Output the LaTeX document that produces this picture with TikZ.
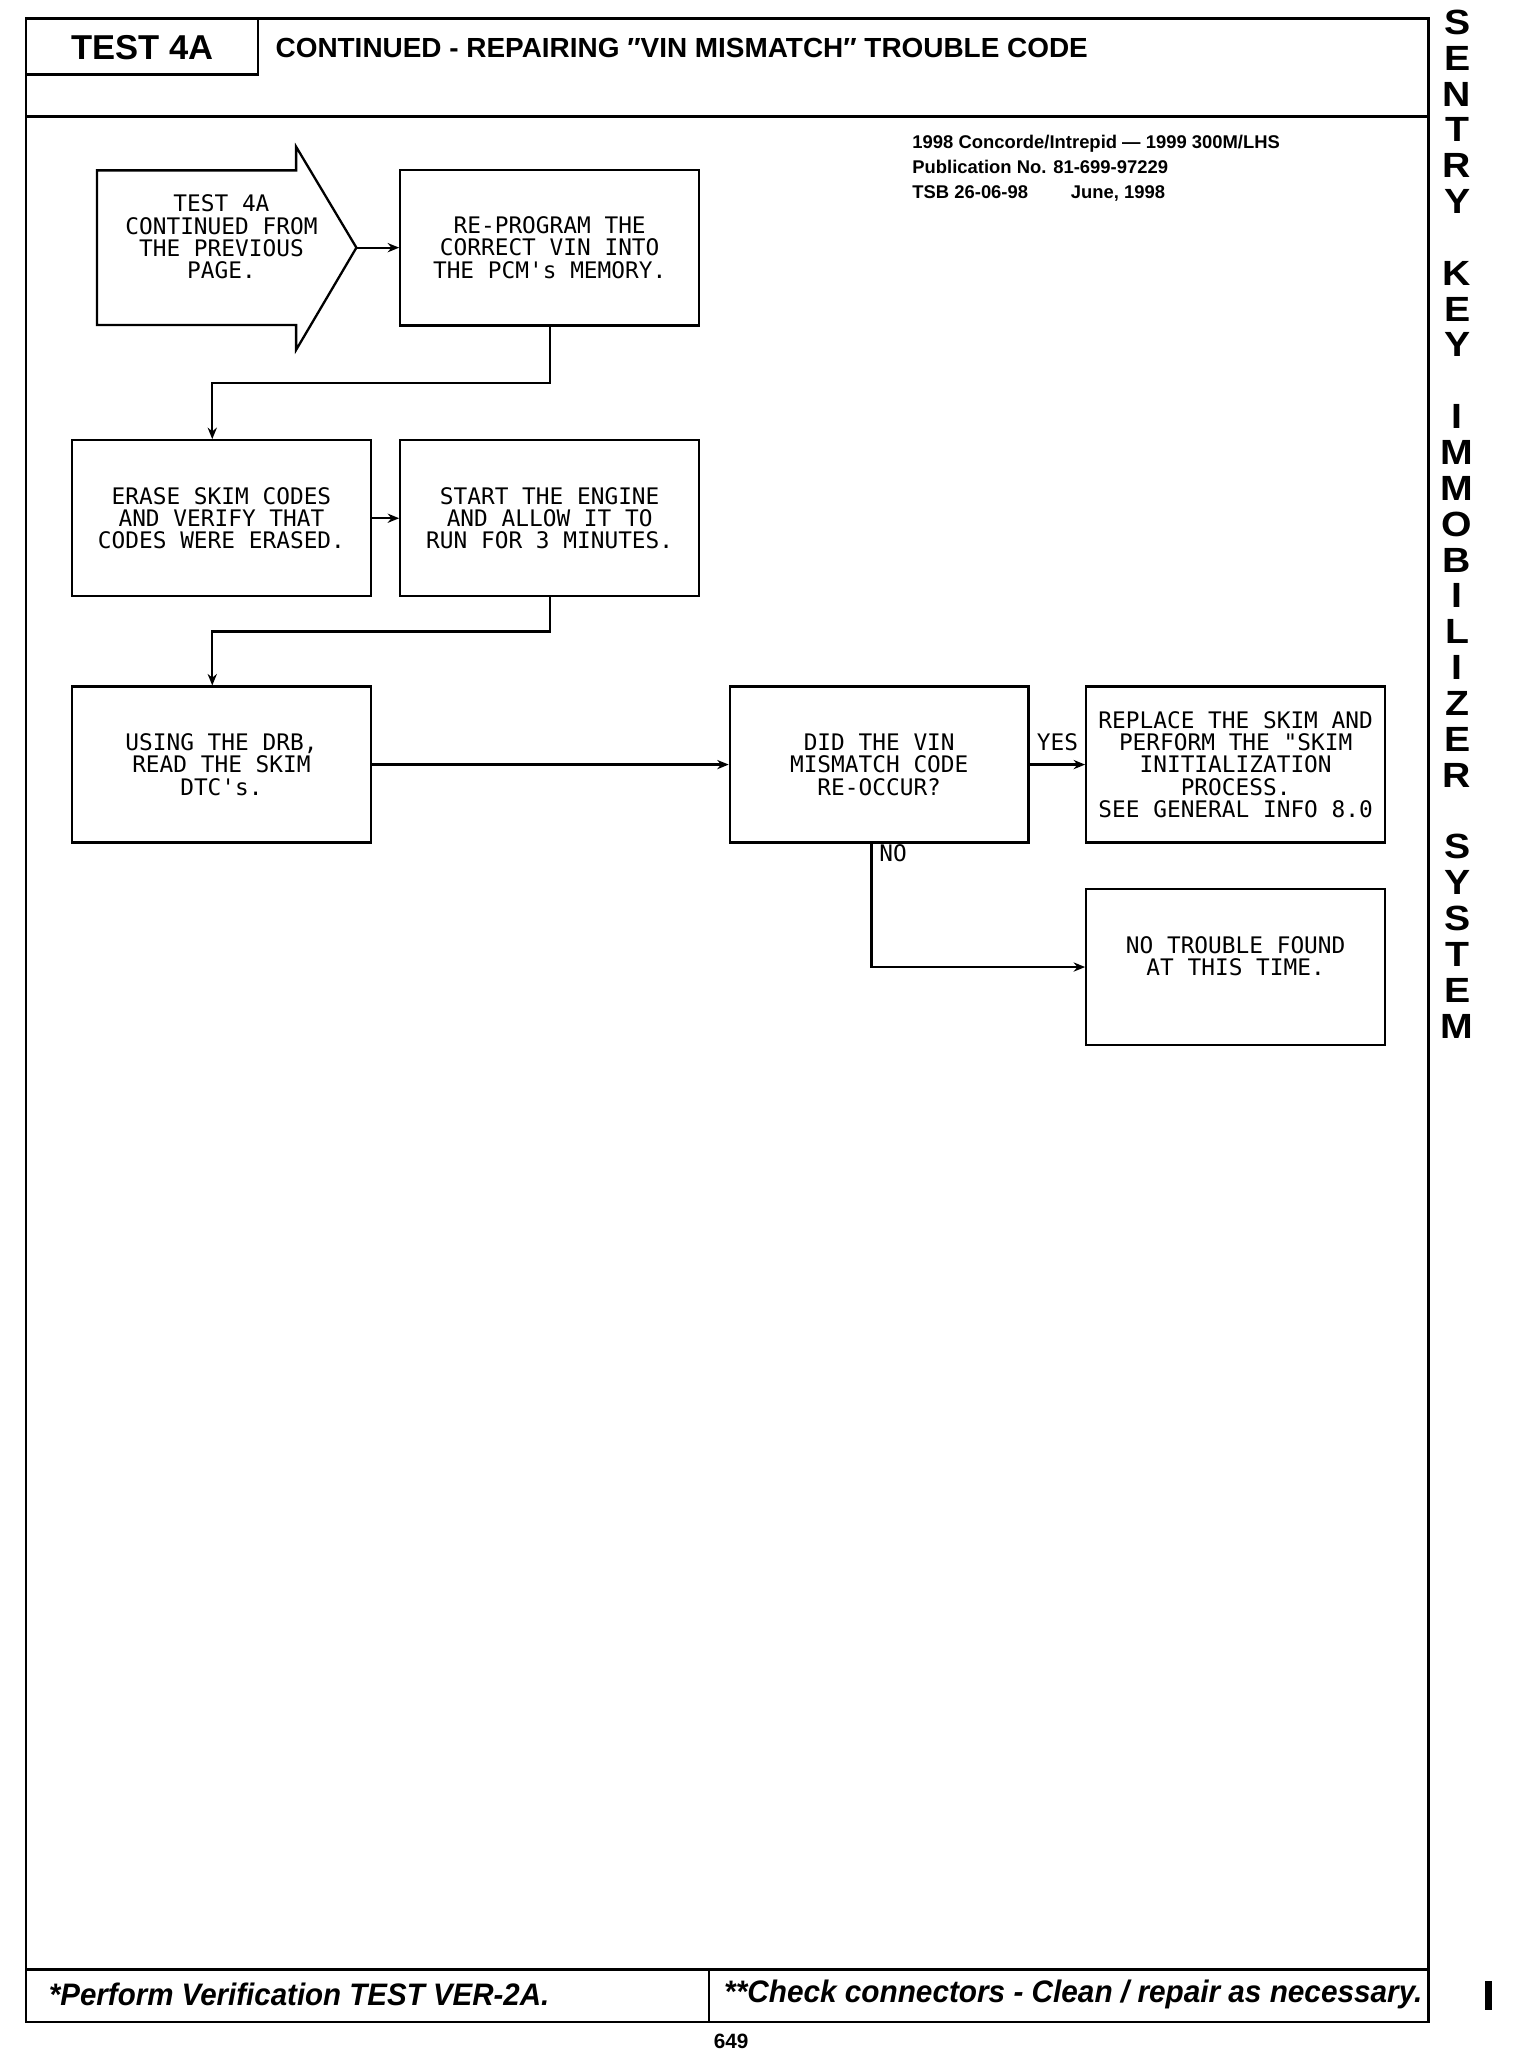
\documentclass[tikz,border=0pt]{standalone}
\usepackage{fontspec}
\setmainfont{Liberation Sans}
\newfontfamily\plotter{DejaVu Sans Mono}
\usetikzlibrary{arrows.meta,calc,positioning}

\begin{document}
\begin{tikzpicture}[x=0.02cm,y=-0.02cm,
        stepbox/.style={draw,line width=1pt,minimum width=4.56cm,minimum height=2.38cm,inner sep=0pt,align=center,font=\plotter\fontsize{9.9}{9.7}\selectfont},
        flow/.style={line width=1pt,-{Stealth[length=5pt,width=4pt]}},
        sideletter/.style={inner sep=0pt,font=\bfseries\fontsize{15.2}{15.2}\selectfont},
        frame/.style={line width=1.1pt}]
            \useasboundingbox (0,0) rectangle (1160,1564.5);
            % page frame
            \draw[frame] (20,14) rectangle (1090,1543);
            \draw[frame] (20,89) -- (1090,89);
            \draw[frame] (20,1503) -- (1090,1503);
            \draw[frame] (541,1503) -- (541,1543);
            \draw[frame] (20,14) rectangle (197,57);
            \node[font=\bfseries\fontsize{15}{15}\selectfont] (testno) at (108.5,36) {TEST 4A};
            \node[anchor=west,inner sep=0pt,font=\bfseries\fontsize{12}{12}\selectfont] (title) at (210,37) {\resizebox{12.4cm}{\height}{CONTINUED - REPAIRING ″VIN MISMATCH″ TROUBLE CODE}};
            \node[anchor=north west,inner sep=0pt,align=left,font=\bfseries\fontsize{8}{10.8}\selectfont] (pubinfo) at (696,103) {1998 Concorde/Intrepid --- 1999 300M/LHS\\Publication No. 81-699-97229\\\makebox[2.42cm][l]{TSB 26-06-98}June, 1998};
            % side title, one letter per line
            \foreach \ch/\k in {S/0,E/1,N/2,T/3,R/4,Y/5,K/7,E/8,Y/9,I/11,M/12,M/13,O/14,B/15,I/16,L/17,I/18,Z/19,E/20,R/21,S/23,Y/24,S/25,T/26,E/27,M/28}
                \node[sideletter] (side\k) at (1112,{17+27.36*\k}) {\scalebox{1.12}[1]{\ch}};
            % entry arrow
            \draw[line width=1pt] (74,130) -- (226,130) -- (226,112) -- (272,189) coordinate (tip) -- (226,267) -- (226,248) -- (74,248) -- cycle;
            \node[align=center,inner sep=0pt,font=\plotter\fontsize{9.9}{9.7}\selectfont] (cont) at (169,181) {TEST 4A\\CONTINUED FROM\\THE PREVIOUS\\PAGE.};
            % steps
            \node[stepbox] (reprog) at (419.5,189) {RE-PROGRAM THE\\CORRECT VIN INTO\\THE PCM's MEMORY.};
            \node[stepbox] (erase) at (169,395.5) {ERASE SKIM CODES\\AND VERIFY THAT\\CODES WERE ERASED.};
            \node[stepbox] (start) at (419.5,395.5) {START THE ENGINE\\AND ALLOW IT TO\\RUN FOR 3 MINUTES.};
            \node[stepbox] (using) at (169,583.5) {USING THE DRB,\\READ THE SKIM\\DTC's.};
            \node[stepbox] (did) at (671,583.5) {DID THE VIN\\MISMATCH CODE\\RE-OCCUR?};
            \node[stepbox] (replace) at (943,583.5) {REPLACE THE SKIM AND\\PERFORM THE "SKIM\\INITIALIZATION\\PROCESS.\\SEE GENERAL INFO 8.0};
            \node[stepbox] (notrouble) at (943,738) {NO TROUBLE FOUND\\AT THIS TIME.\\\mbox{}};
            % connectors
            \draw[flow] (tip) -- (reprog.west);
            \draw[flow] (reprog.south) -- ++(0,43) -| ([xshift=-0.14cm]erase.north);
            \draw[flow] (erase.east) -- (start.west);
            \draw[flow] (start.south) -- ++(0,26) -| ([xshift=-0.14cm]using.north);
            \draw[flow] (using.east) -- (did.west);
            \draw[flow] (did.east) -- node[above=2.5pt,inner sep=3pt,font=\plotter\fontsize{9.9}{9.7}\selectfont] (yes) {YES} (replace.west);
            \draw[flow] ([xshift=-0.12cm]did.south) |- node[pos=0.04,anchor=west,inner sep=3pt,font=\plotter\fontsize{9.9}{9.7}\selectfont] (no) {NO} (notrouble.west);
            % footer
            \node[anchor=west,inner sep=0pt,font=\bfseries\itshape\fontsize{13.5}{13.5}\selectfont] (verify) at (37,1522) {\resizebox{7.64cm}{\height}{*Perform Verification TEST VER-2A.}};
            \node[anchor=east,inner sep=0pt,font=\bfseries\itshape\fontsize{13.5}{13.5}\selectfont] (checkconn) at (1086,1522) {\resizebox{10.66cm}{\height}{**Check connectors - Clean / repair as necessary.}};
            \node[font=\bfseries\fontsize{9}{9}\selectfont] (pageno) at (558,1558) {649};
            \fill (1133,1512) rectangle (1139,1534);
        \end{tikzpicture}
\end{document}
